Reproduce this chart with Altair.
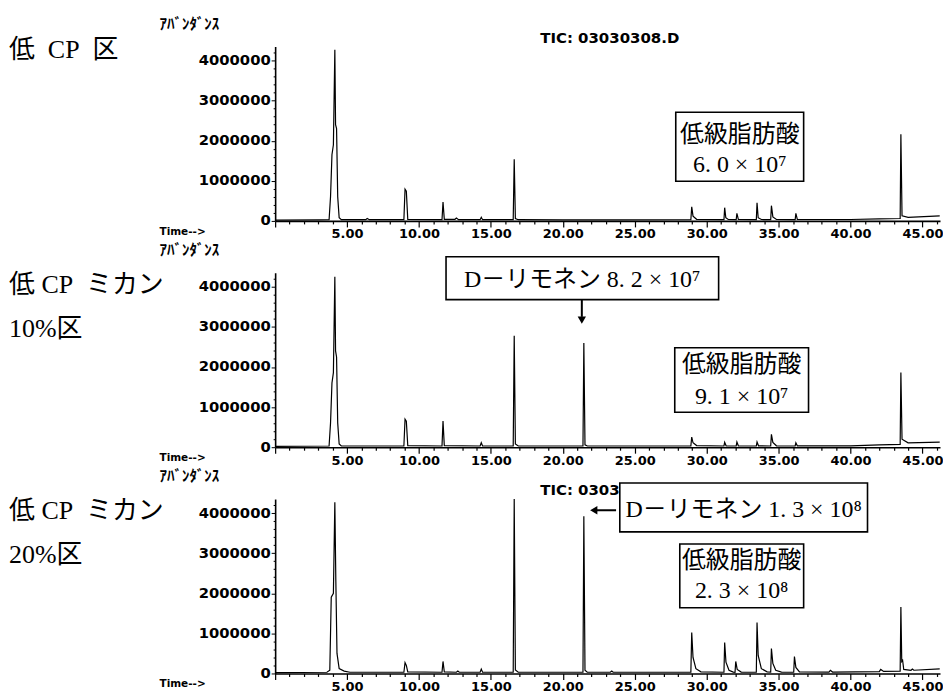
import altair as alt
import pandas as pd

W, H = 667, 175
XMAX, YMAX = 46.22, 4350000

# ---------------- chromatogram traces (time [min], abundance) ----------------
t_low = [0.0, 3.0, 3.75, 3.85, 3.95, 4.05, 4.15, 4.2, 4.27, 4.35, 4.45, 4.6, 6.3, 6.4, 6.55,
         8.95, 9.03, 9.12, 9.22, 11.6, 11.67, 11.76, 12.5, 12.6, 12.75, 14.25, 14.33, 14.42,
         16.55, 16.62, 16.7, 16.9, 20.0, 24.0, 28.9, 28.96, 29.05, 29.3, 31.2, 31.25, 31.33, 31.5,
         32.05, 32.1, 32.2, 33.45, 33.5, 33.58, 33.8, 34.45, 34.5, 34.6, 34.85, 36.15, 36.2, 36.3,
         40.0, 42.0, 43.45, 43.5, 43.58, 44.0, 46.2]
a_low = [20000, 25000, 30000, 600000, 1650000, 1900000, 4270000, 2400000, 2300000, 600000, 80000, 30000, 30000, 60000, 30000,
         30000, 790000, 740000, 40000, 30000, 470000, 40000, 40000, 70000, 30000, 30000, 90000, 30000,
         30000, 1540000, 60000, 30000, 25000, 25000, 30000, 350000, 120000, 40000, 30000, 330000, 80000, 35000,
         30000, 190000, 40000, 30000, 450000, 80000, 35000, 30000, 380000, 100000, 35000, 30000, 190000, 40000,
         35000, 50000, 60000, 2160000, 130000, 90000, 125000]

t_10 = [0.0, 3.75, 3.85, 3.95, 4.05, 4.15, 4.2, 4.27, 4.35, 4.45, 4.6,
        8.95, 9.03, 9.12, 9.22, 11.6, 11.67, 11.76, 14.25, 14.33, 14.42,
        16.55, 16.62, 16.7, 16.9, 21.4, 21.46, 21.54, 21.7,
        28.9, 28.96, 29.05, 29.3, 31.2, 31.25, 31.35, 32.05, 32.1, 32.2,
        33.45, 33.5, 33.6, 34.45, 34.5, 34.6, 34.85, 36.15, 36.2, 36.3,
        40.0, 42.0, 43.45, 43.5, 43.58, 44.0, 46.2]
a_10 = [20000, 30000, 600000, 1600000, 1860000, 4250000, 2400000, 2250000, 600000, 80000, 30000,
        30000, 700000, 650000, 40000, 30000, 650000, 40000, 30000, 110000, 30000,
        30000, 2780000, 80000, 30000, 30000, 2600000, 60000, 30000,
        30000, 250000, 110000, 40000, 30000, 120000, 35000, 30000, 130000, 35000,
        30000, 130000, 35000, 30000, 320000, 120000, 35000, 30000, 110000, 35000,
        35000, 60000, 70000, 1860000, 200000, 110000, 125000]

t_20 = [0.0, 3.6, 3.8, 3.9, 4.05, 4.15, 4.22, 4.3, 4.45, 4.8, 5.2,
        8.95, 9.03, 9.12, 9.22, 11.6, 11.67, 11.76, 12.6, 12.7, 12.8, 14.25, 14.33, 14.42,
        16.55, 16.62, 16.7, 16.9, 21.4, 21.46, 21.54, 21.7, 23.3, 23.4, 23.5,
        28.9, 28.96, 29.05, 29.25, 29.6, 31.2, 31.25, 31.34, 31.55, 31.85,
        31.97, 32.02, 32.12, 32.4, 33.45, 33.5, 33.58, 33.8, 34.2,
        34.45, 34.5, 34.6, 34.8, 35.2, 36.05, 36.1, 36.2, 36.45,
        38.5, 38.6, 38.75, 42.0, 42.1, 42.3, 43.45, 43.5, 43.56, 43.62, 43.7, 44.2, 44.3, 44.4, 46.2]
a_20 = [20000, 30000, 80000, 1900000, 2000000, 4270000, 2300000, 500000, 120000, 60000, 30000,
        30000, 270000, 200000, 40000, 30000, 300000, 40000, 30000, 60000, 30000, 30000, 110000, 30000,
        30000, 4350000, 90000, 30000, 30000, 3920000, 80000, 30000, 30000, 60000, 30000,
        30000, 1020000, 400000, 120000, 40000, 30000, 770000, 280000, 80000, 35000,
        30000, 300000, 100000, 35000, 30000, 1270000, 450000, 120000, 40000,
        35000, 620000, 250000, 80000, 35000, 30000, 420000, 150000, 40000,
        35000, 80000, 35000, 45000, 100000, 50000, 60000, 1660000, 300000, 330000, 100000, 80000, 110000, 80000, 115000]

traces = [(t_low, a_low), (t_10, a_10), (t_20, a_20)]

# ---------------- texts ----------------
panel_labels = [["低\u2002CP\u2002区"], ["低 CP\u2002ミカン", "10%区"], ["低 CP\u2002ミカン", "20%区"]]
tic_text = "TIC: 03030308.D"
tic_panels = [0, 2]          # in the middle panel it is hidden behind the box
tic_t, tic_a = 23.26, 4570000

# annotation boxes: panel, x1, x2, y1, y2
box_panel = [0, 1, 1, 2, 2]
box_x1 = [27.85, 11.88, 27.78, 23.96, 28.13]
box_x2 = [36.74, 30.83, 37.08, 41.18, 36.74]
box_y1 = [2710000, 4750000, 2480000, 4750000, 3230000]
box_y2 = [990000, 3680000, 870000, 3530000, 1640000]

note_panel = [0, 0, 1, 1, 1, 2, 2, 2]
note_text = ["低級脂肪酸", "6. 0 × 10⁷", "D－リモネン 8. 2 × 10⁷", "低級脂肪酸", "9. 1 × 10⁷",
             "D－リモネン 1. 3 × 10⁸", "低級脂肪酸", "2. 3 × 10⁸"]
note_x = [32.3, 32.3, 21.35, 32.43, 32.43, 32.57, 32.43, 32.43]
note_y = [2140000, 1390000, 4170000, 2060000, 1240000, 4070000, 2810000, 2060000]

# arrows: panel, rule x, x2, y, y2 ; head x, y, shape
arrow_panel = [1, 2]
arrow_x1 = [21.32, 22.3]
arrow_x2 = [21.32, 23.7]
arrow_y1 = [3680000, 4070000]
arrow_y2 = [3250000, 4070000]
head_x = [21.32, 22.15]
head_y = [3170000, 4070000]
head_shape = ["triangle-down", "triangle-left"]

SERIF = "Liberation Serif, Noto Sans CJK JP"
SANS_B = "DejaVu Sans"

xscale = alt.Scale(domain=[0, XMAX], nice=False, zero=False)
yscale = alt.Scale(domain=[0, YMAX], nice=False)

xaxis = alt.Axis(
    values=list(range(0, 47)),
    labelExpr="datum.value % 5 === 0 && datum.value > 0 ? format(datum.value, '.2f') : ''",
    tickSize={"condition": {"test": "datum.value % 5 === 0", "value": 6}, "value": 3},
    title=None, grid=False, domainColor="black", domainWidth=1.6, tickColor="black",
    tickWidth=1.2, labelFont=SANS_B, labelFontWeight="bold", labelFontSize=13,
    labelColor="black", labelPadding=1, labelOverlap=False, labelFlush=False,
)
yaxis = alt.Axis(
    values=[i * 200000 for i in range(0, 22)],
    labelExpr="datum.value % 1000000 === 0 ? format(datum.value, 'd') : ''",
    tickSize={"condition": {"test": "datum.value % 1000000 === 0", "value": 4}, "value": 2},
    title=None, grid=False, domainColor="black", domainWidth=1.6, tickColor="black",
    tickWidth=1, labelFont=SANS_B, labelFontWeight="bold", labelFontSize=14.8,
    labelColor="black", labelPadding=1, labelOverlap=False, labelFlush=False,
)


def X(f="t"):
    return alt.X(f"{f}:Q", scale=xscale, axis=xaxis)


def Y(f="a"):
    return alt.Y(f"{f}:Q", scale=yscale, axis=yaxis)


one = pd.DataFrame({"k": [0]})


def make_panel(i):
    tt, aa = traces[i]
    df = pd.DataFrame({"t": tt, "a": aa})
    line = alt.Chart(df).mark_line(color="black", strokeWidth=1.2).encode(x=X(), y=Y())
    layers = [line]

    if i in tic_panels:
        layers.append(alt.Chart(pd.DataFrame({"t": [tic_t], "a": [tic_a]})).mark_text(
            text=tic_text, font=SANS_B, fontWeight="bold", fontSize=15, color="black",
            baseline="middle", align="center").encode(x=X(), y=Y()))

    bidx = [k for k, p in enumerate(box_panel) if p == i]
    bdf = pd.DataFrame({"t": [box_x1[k] for k in bidx], "t2": [box_x2[k] for k in bidx],
                        "a": [box_y1[k] for k in bidx], "a2": [box_y2[k] for k in bidx]})
    layers.append(alt.Chart(bdf).mark_rect(fill="white", stroke="black", strokeWidth=1.6).encode(
        x=X(), x2="t2:Q", y=Y(), y2="a2:Q"))

    nidx = [k for k, p in enumerate(note_panel) if p == i]
    ndf = pd.DataFrame({"t": [note_x[k] for k in nidx], "a": [note_y[k] for k in nidx],
                        "txt": [note_text[k] for k in nidx]})
    layers.append(alt.Chart(ndf).mark_text(font=SERIF, fontSize=24, color="black",
                                           baseline="middle", align="center").encode(
        x=X(), y=Y(), text="txt:N"))

    aidx = [k for k, p in enumerate(arrow_panel) if p == i]
    if aidx:
        adf = pd.DataFrame({"t": [arrow_x1[k] for k in aidx], "t2": [arrow_x2[k] for k in aidx],
                            "a": [arrow_y1[k] for k in aidx], "a2": [arrow_y2[k] for k in aidx]})
        layers.append(alt.Chart(adf).mark_rule(color="black", strokeWidth=2).encode(
            x=X(), x2="t2:Q", y=Y(), y2="a2:Q"))
        hdf = pd.DataFrame({"t": [head_x[k] for k in aidx], "a": [head_y[k] for k in aidx],
                            "shape": [head_shape[k] for k in aidx]})
        layers.append(alt.Chart(hdf).mark_point(filled=True, color="black", opacity=1, size=70).encode(
            x=X(), y=Y(), shape=alt.Shape("shape:N", scale=None)))

    # left-hand group labels
    labs = panel_labels[i]
    offs = [4] if len(labs) == 1 else [12, 56]
    for txt, off in zip(labs, offs):
        layers.append(alt.Chart(one).mark_text(
            text=txt, font=SERIF, fontSize=26, color="black", align="left",
            baseline="middle").encode(x=alt.value(-267), y=alt.value(off)))

    # instrument axis captions
    layers.append(alt.Chart(one).mark_text(
        text="ｱﾊﾞﾝﾀﾞﾝｽ", font="Noto Sans CJK JP", fontWeight="bold", fontSize=15,
        color="black", align="left", baseline="middle").encode(
        x=alt.value(-116), y=alt.value(-23)))
    layers.append(alt.Chart(one).mark_text(
        text="Time-->", font=SANS_B, fontWeight="bold", fontSize=10.5, color="black",
        align="left", baseline="middle").encode(x=alt.value(-116), y=alt.value(H + 11)))

    return alt.layer(*layers).properties(width=W, height=H)


chart = alt.vconcat(make_panel(0), make_panel(1), make_panel(2), spacing=52, bounds="flush") \
    .configure_view(stroke=None) \
    .properties(padding={"left": 1, "top": 7.5, "right": 0, "bottom": 0})

chart.save("out.html", embed_options={"renderer": "svg", "actions": False})
